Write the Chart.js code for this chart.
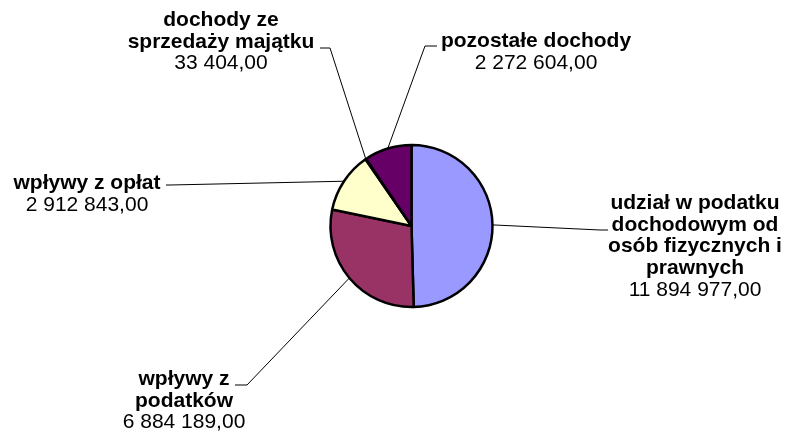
<!DOCTYPE html>
<html><head><meta charset="utf-8">
<script src="https://cdn.jsdelivr.net/npm/chart.js@4/dist/chart.umd.min.js"></script>
<style>html,body{margin:0;padding:0;background:#fff;}canvas{display:block;}</style>
</head><body>
<canvas id="c" width="789" height="439"></canvas>
<script>
const categories = [
  "udział w podatku dochodowym od osób fizycznych i prawnych",
  "wpływy z podatków",
  "wpływy z opłat",
  "dochody ze sprzedaży majątku",
  "pozostałe dochody"
];
const labelLines = [
  ["udział w podatku", "dochodowym od", "osób fizycznych i", "prawnych"],
  ["wpływy z", "podatków"],
  ["wpływy z opłat"],
  ["dochody ze", "sprzedaży majątku"],
  ["pozostałe dochody"]
];
const values = [11894977, 6884189, 2912843, 33404, 2272604];
const colors = ["#9999FF", "#993366", "#FFFFCC", "#CCFFFF", "#660066"];

function fmt(v) {
  const s = Math.round(v).toString().replace(/\B(?=(\d{3})+(?!\d))/g, " ");
  return s + ",00";
}

// layout of label boxes and leader lines (pixels)
const layout = [
  {cx: 695, y: 203, elbow: [600, 230], end: [608, 230]},
  {cx: 184, y: 379, elbow: [247, 385], end: [235, 385]},
  {cx: 87,  y: 183, elbow: [170, 185], end: [166, 185]},
  {cx: 221, y: 20,  elbow: [330, 48],  end: [320, 48]},
  {cx: 536, y: 41,  elbow: [425, 46],  end: [437, 46]}
];
const LH = 21.8;

const labelPlugin = {
  id: 'labels',
  afterDatasetsDraw(chart) {
    const ctx = chart.ctx;
    const meta = chart.getDatasetMeta(0);
    meta.data.forEach((arc, i) => {
      const p = arc.getProps(['x','y','startAngle','endAngle','outerRadius'], true);
      const mid = (p.startAngle + p.endAngle) / 2;
      const sx = p.x + Math.cos(mid) * p.outerRadius;
      const sy = p.y + Math.sin(mid) * p.outerRadius;
      const L = layout[i];
      ctx.save();
      ctx.strokeStyle = '#000';
      ctx.lineWidth = 1;
      ctx.beginPath();
      ctx.moveTo(sx, sy);
      ctx.lineTo(L.elbow[0], L.elbow[1]);
      ctx.lineTo(L.end[0], L.end[1]);
      ctx.stroke();
      ctx.fillStyle = '#000';
      ctx.textAlign = 'center';
      ctx.textBaseline = 'middle';
      const lines = labelLines[i];
      ctx.font = 'bold 21px "Liberation Sans", Arial, sans-serif';
      lines.forEach((t, k) => ctx.fillText(t, L.cx, L.y + k * LH));
      ctx.font = '21px "Liberation Sans", Arial, sans-serif';
      ctx.fillText(fmt(values[i]), L.cx, L.y + lines.length * LH);
      ctx.restore();
    });
  }
};

new Chart(document.getElementById('c'), {
  type: 'pie',
  data: {
    labels: categories,
    datasets: [{
      data: values,
      backgroundColor: colors,
      borderColor: '#000',
      borderWidth: 2.5,
      radius: 81
    }]
  },
  options: {
    responsive: false,
    animation: false,
    layout: {padding: {left: 34, right: 0, top: 13, bottom: 0}},
    plugins: {legend: {display: false}, tooltip: {enabled: false}, title: {display: false}}
  },
  plugins: [labelPlugin]
});
</script>
</body></html>
